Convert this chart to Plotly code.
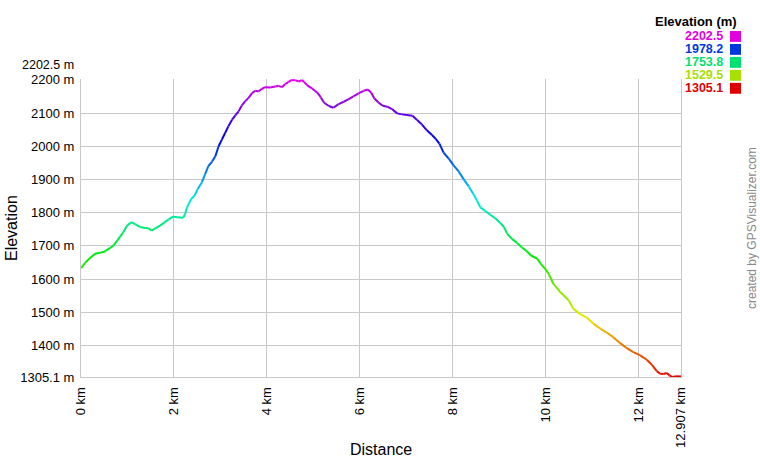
import colorsys
import plotly.graph_objects as go

# distance (km) and elevation (m)
dist_km = [0.00, 0.09, 0.19, 0.30, 0.41, 0.52, 0.62, 0.70, 0.77, 0.84, 0.91, 0.98,
           1.05, 1.10, 1.17, 1.27, 1.38, 1.45, 1.52, 1.60, 1.70, 1.79, 1.88, 1.98,
           2.08, 2.20, 2.24, 2.28, 2.37, 2.44, 2.51, 2.60, 2.67, 2.74, 2.82, 2.89,
           2.96, 3.03, 3.10, 3.17, 3.25, 3.32, 3.39, 3.46, 3.53, 3.60, 3.68, 3.75,
           3.82, 3.89, 3.96, 4.07, 4.18, 4.25, 4.32, 4.39, 4.46, 4.52, 4.61, 4.68,
           4.75, 4.80, 4.86, 4.97, 5.08, 5.16, 5.23, 5.33, 5.43, 5.54, 5.65, 5.75,
           5.86, 5.97, 6.08, 6.17, 6.24, 6.31, 6.40, 6.49, 6.59, 6.69, 6.80, 6.90,
           7.01, 7.13, 7.23, 7.33, 7.44, 7.55, 7.63, 7.71, 7.80, 7.91, 8.01, 8.12,
           8.23, 8.34, 8.44, 8.52, 8.59, 8.69, 8.80, 8.91, 9.02, 9.10, 9.17, 9.27,
           9.38, 9.48, 9.59, 9.68, 9.81, 9.89, 9.99, 10.06, 10.16, 10.31, 10.49, 10.59,
           10.72, 10.88, 11.02, 11.17, 11.31, 11.45, 11.60, 11.74, 11.88, 12.03, 12.17, 12.28,
           12.39, 12.46, 12.53, 12.60, 12.66, 12.72, 12.78, 12.907]
elev_m = [1633, 1649, 1663, 1676, 1679, 1684, 1693, 1701, 1714, 1728, 1741, 1759,
          1768, 1771, 1765, 1757, 1754, 1753, 1746, 1753, 1761, 1770, 1779, 1788,
          1786, 1785, 1796, 1816, 1841, 1851, 1871, 1891, 1916, 1940, 1954, 1970,
          2000, 2020, 2040, 2060, 2080, 2093, 2105, 2123, 2135, 2145, 2160, 2167,
          2165, 2173, 2178, 2177, 2180, 2182, 2178, 2187, 2193, 2199, 2199, 2195,
          2199, 2194, 2184, 2174, 2162, 2147, 2131, 2121, 2116, 2127, 2134, 2141,
          2150, 2159, 2167, 2171, 2162, 2144, 2132, 2122, 2119, 2112, 2099, 2096,
          2094, 2092, 2079, 2066, 2048, 2034, 2022, 2008, 1981, 1963, 1943, 1925,
          1901, 1879, 1856, 1836, 1816, 1806, 1794, 1783, 1769, 1756, 1736, 1721,
          1709, 1696, 1684, 1671, 1662, 1646, 1630, 1616, 1586, 1561, 1536, 1511,
          1496, 1484, 1466, 1451, 1439, 1425, 1407, 1392, 1380, 1370, 1357, 1342,
          1322, 1315, 1314, 1317, 1310, 1305.1, 1307, 1307]

elev_min = 1305.1
elev_max = 2202.5
total_km = 12.907

x_ticks = [0, 2, 4, 6, 8, 10, 12, 12.907]
x_labels = ["0 km", "2 km", "4 km", "6 km", "8 km", "10 km", "12 km", "12.907 km"]
y_ticks = [1305.1, 1400, 1500, 1600, 1700, 1800, 1900, 2000, 2100, 2200]
y_labels = ["1305.1 m", "1400 m", "1500 m", "1600 m", "1700 m", "1800 m",
            "1900 m", "2000 m", "2100 m", "2200 m"]
legend_vals = [2202.5, 1978.2, 1753.8, 1529.5, 1305.1]


def elev_color(e, v=0.88):
    h = 300.0 * (e - elev_min) / (elev_max - elev_min) / 360.0
    r, g, b = colorsys.hsv_to_rgb(max(0, min(h, 300 / 360)), 1, v)
    return "rgb(%d,%d,%d)" % (r * 255, g * 255, b * 255)


fig = go.Figure()

# one short trace per segment so the line follows the elevation colours
for i in range(len(dist_km) - 1):
    mid = (elev_m[i] + elev_m[i + 1]) / 2
    fig.add_trace(go.Scatter(x=dist_km[i:i + 2], y=elev_m[i:i + 2], mode="lines",
                             line=dict(color=elev_color(mid, 0.92), width=2),
                             hoverinfo="skip", showlegend=False))

L, R, T, B = 81, 79, 79, 80
W, H = 760, 460
pw, ph = W - L - R, H - T - B


def px_x(p):
    return (p - L) / pw


def px_y(p):
    return (H - B - p) / ph


grid = "#c8c8c8"
fig.update_layout(
    width=W, height=H,
    margin=dict(l=L, r=R, t=T, b=B, pad=0),
    paper_bgcolor="white", plot_bgcolor="white",
    font=dict(family="Liberation Sans, Arial, sans-serif", size=13, color="black"),
    showlegend=False,
)
fig.update_xaxes(range=[0, total_km], tickvals=x_ticks, ticktext=x_labels,
                 tickangle=-90, showgrid=True, gridcolor=grid, gridwidth=1,
                 showline=True, linecolor=grid, linewidth=1, zeroline=False,
                 ticks="", ticklabelstandoff=4, tickfont=dict(size=13))
fig.update_yaxes(range=[elev_min, elev_max], tickvals=y_ticks, ticktext=y_labels,
                 showgrid=True, gridcolor=grid, gridwidth=1,
                 showline=True, mirror=True, linecolor=grid, linewidth=1,
                 zeroline=False, ticks="", ticklabelstandoff=3,
                 tickfont=dict(size=13))

ann = []
ann.append(dict(text="%.1f m" % elev_max, xref="paper", yref="paper",
                x=px_x(76), y=px_y(65), xanchor="right", yanchor="middle",
                showarrow=False, font=dict(size=12.5)))
ann.append(dict(text="Elevation", xref="paper", yref="paper", x=px_x(11),
                y=0.5, xanchor="center", yanchor="middle", textangle=-90,
                showarrow=False, font=dict(size=16)))
ann.append(dict(text="Distance", xref="paper", yref="paper", x=0.5,
                y=px_y(453), xanchor="center", yanchor="middle",
                showarrow=False, font=dict(size=16)))
ann.append(dict(text="created by GPSVisualizer.com", xref="paper", yref="paper",
                x=px_x(752), y=0.5, xanchor="center", yanchor="middle",
                textangle=-90, showarrow=False,
                font=dict(size=12, color="#888888")))
ann.append(dict(text="<b>Elevation (m)</b>", xref="paper", yref="paper",
                x=px_x(739), y=px_y(21), xanchor="right", yanchor="middle",
                showarrow=False, font=dict(size=13)))

shapes = []
for k, v in enumerate(legend_vals):
    cy = 36 + k * 13.1
    col = elev_color(v)
    ann.append(dict(text="<b>%.1f</b>" % v, xref="paper", yref="paper",
                    x=px_x(725), y=px_y(cy), xanchor="right", yanchor="middle",
                    showarrow=False, font=dict(size=12.5, color=col)))
    shapes.append(dict(type="rect", xref="paper", yref="paper",
                       x0=px_x(730), x1=px_x(741), y0=px_y(cy + 5.5), y1=px_y(cy - 5.5),
                       fillcolor=col, line=dict(width=0)))

fig.update_layout(annotations=ann, shapes=shapes)

fig.write_html("out.html", config={"displayModeBar": False},
               post_script="document.body.style.margin='0';")
